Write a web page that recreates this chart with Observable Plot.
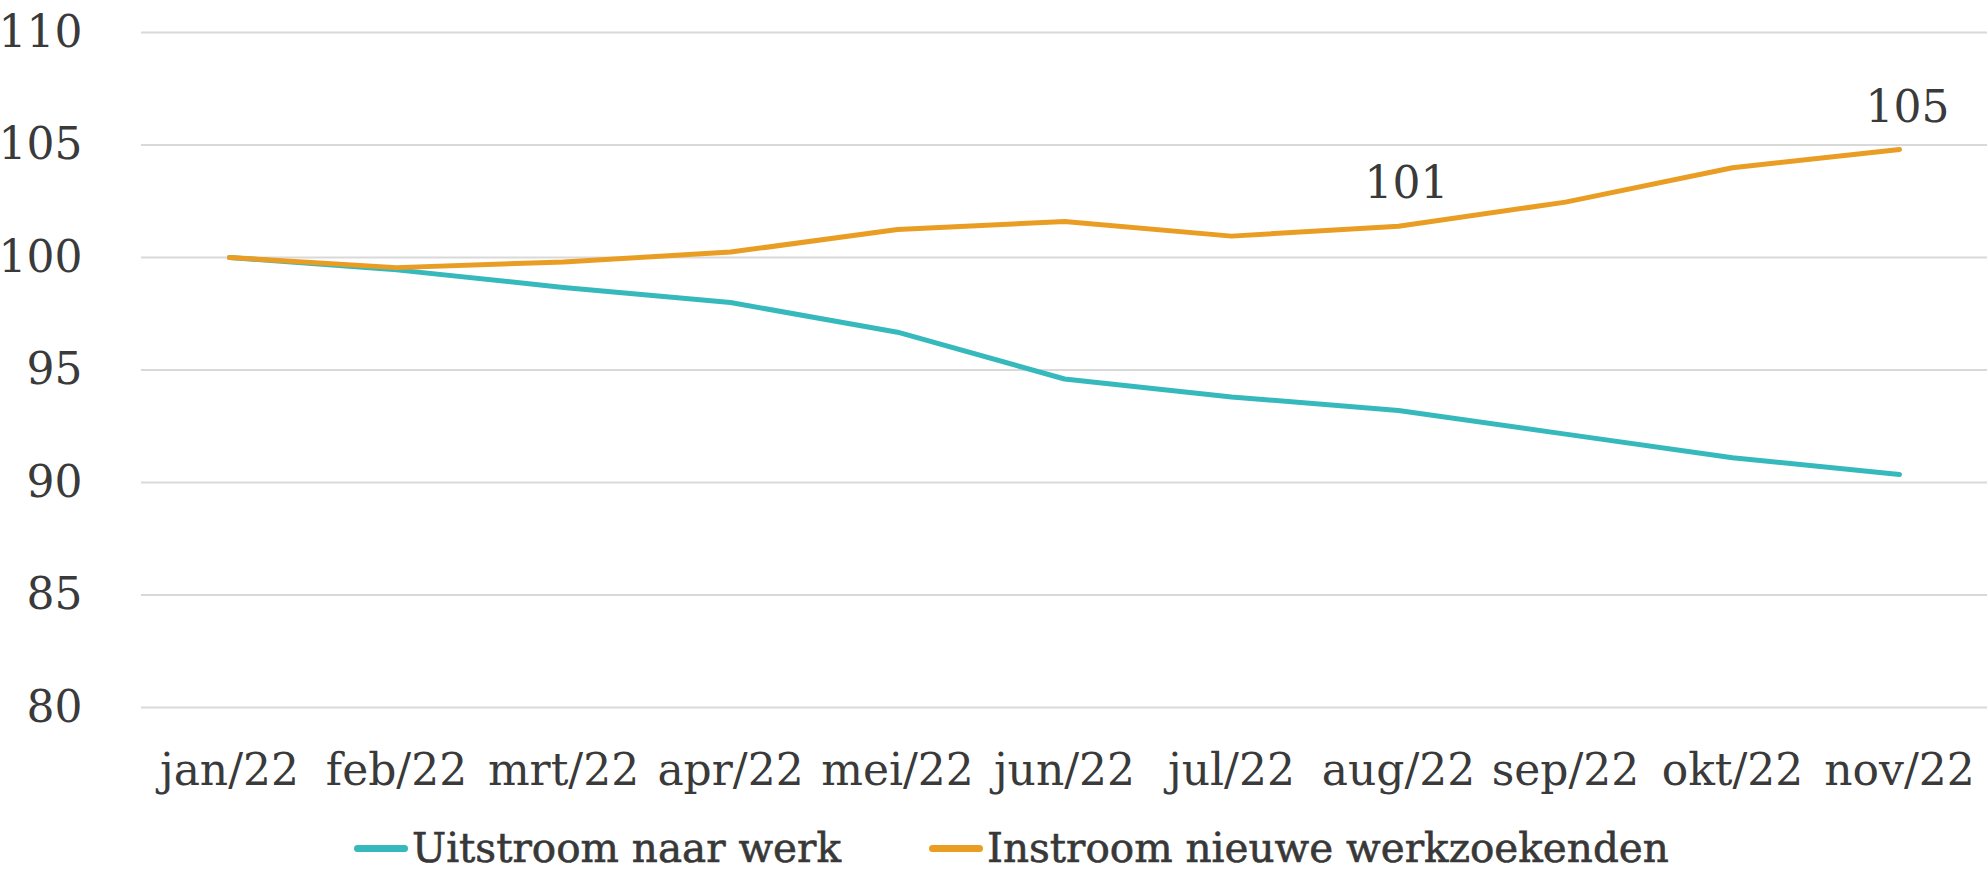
<!DOCTYPE html>
<html><head><meta charset="utf-8">
<script src="https://cdn.jsdelivr.net/npm/d3@7"></script>
<script src="https://cdn.jsdelivr.net/npm/@observablehq/plot@0.6"></script>
<style>
html,body{margin:0;padding:0;background:#fff;overflow:hidden;}
#legend{display:flex;justify-content:flex-start;align-items:center;height:40px;margin-top:23px;padding-left:354px;font-family:"DejaVu Serif",serif;font-size:40.5px;line-height:40px;color:#383838;-webkit-text-stroke:0.6px #383838;white-space:nowrap;}
.item{display:flex;align-items:center;}
.item + .item{margin-left:88px;}
.sw{display:inline-block;width:54px;height:7px;border-radius:4px;margin-right:4px;}
</style></head><body><div id="chart"></div><div id="legend"></div>
<script>
const months = ["jan/22","feb/22","mrt/22","apr/22","mei/22","jun/22","jul/22","aug/22","sep/22","okt/22","nov/22"];
const uitstroom = [100, 99.45, 98.67, 98.0, 96.68, 94.6, 93.8, 93.2, 92.15, 91.1, 90.36];
const instroom = [100, 99.55, 99.8, 100.24, 101.24, 101.6, 100.95, 101.39, 102.46, 103.99, 104.8];
const yTicks = [80, 85, 90, 95, 100, 105, 110];
const seriesNames = ["Uitstroom naar werk", "Instroom nieuwe werkzoekenden"];
const seriesColors = ["#36b9bd", "#e99d23"];
const labelMonths = ["aug/22", "nov/22"];

const rows = [];
months.forEach((m, i) => {
  rows.push({month: m, series: seriesNames[0], value: uitstroom[i]});
  rows.push({month: m, series: seriesNames[1], value: instroom[i]});
});
const labels = rows.filter(d => d.series === seriesNames[1] && labelMonths.includes(d.month));

const chart = Plot.plot({
  width: 1987, height: 805,
  marginTop: 32, marginBottom: 98, marginLeft: 141, marginRight: 0,
  style: {fontFamily: "DejaVu Serif", fontSize: "44px", color: "#3a3a3a", background: "#fff"},
  x: {type: "point", domain: months, padding: 0.5, label: null},
  y: {domain: [80, 110], label: null},
  color: {domain: seriesNames, range: seriesColors},
  marks: [
    Plot.gridY(yTicks, {stroke: "#d9d9d9", strokeOpacity: 1, strokeWidth: 2}),
    Plot.axisY(yTicks, {tickSize: 0, tickPadding: 59, fontSize: 44, label: null}),
    Plot.axisX({tickSize: 0, tickPadding: 46, fontSize: 44, label: null}),
    Plot.line(rows, {x: "month", y: "value", z: "series", stroke: "series", strokeWidth: 5, strokeLinecap: "round", strokeLinejoin: "round"}),
    Plot.text(labels, {x: "month", y: "value", text: d => String(Math.round(d.value)), dy: -28, dx: 8, lineAnchor: "bottom", fontSize: 44, fill: "#3a3a3a"})
  ]
});
document.getElementById("chart").appendChild(chart);

const legend = document.getElementById("legend");
seriesNames.forEach((name, i) => {
  const item = document.createElement("div");
  item.className = "item";
  const sw = document.createElement("span");
  sw.className = "sw";
  sw.style.background = seriesColors[i];
  const t = document.createElement("span");
  t.textContent = name;
  item.appendChild(sw);
  item.appendChild(t);
  legend.appendChild(item);
});
</script></body></html>
